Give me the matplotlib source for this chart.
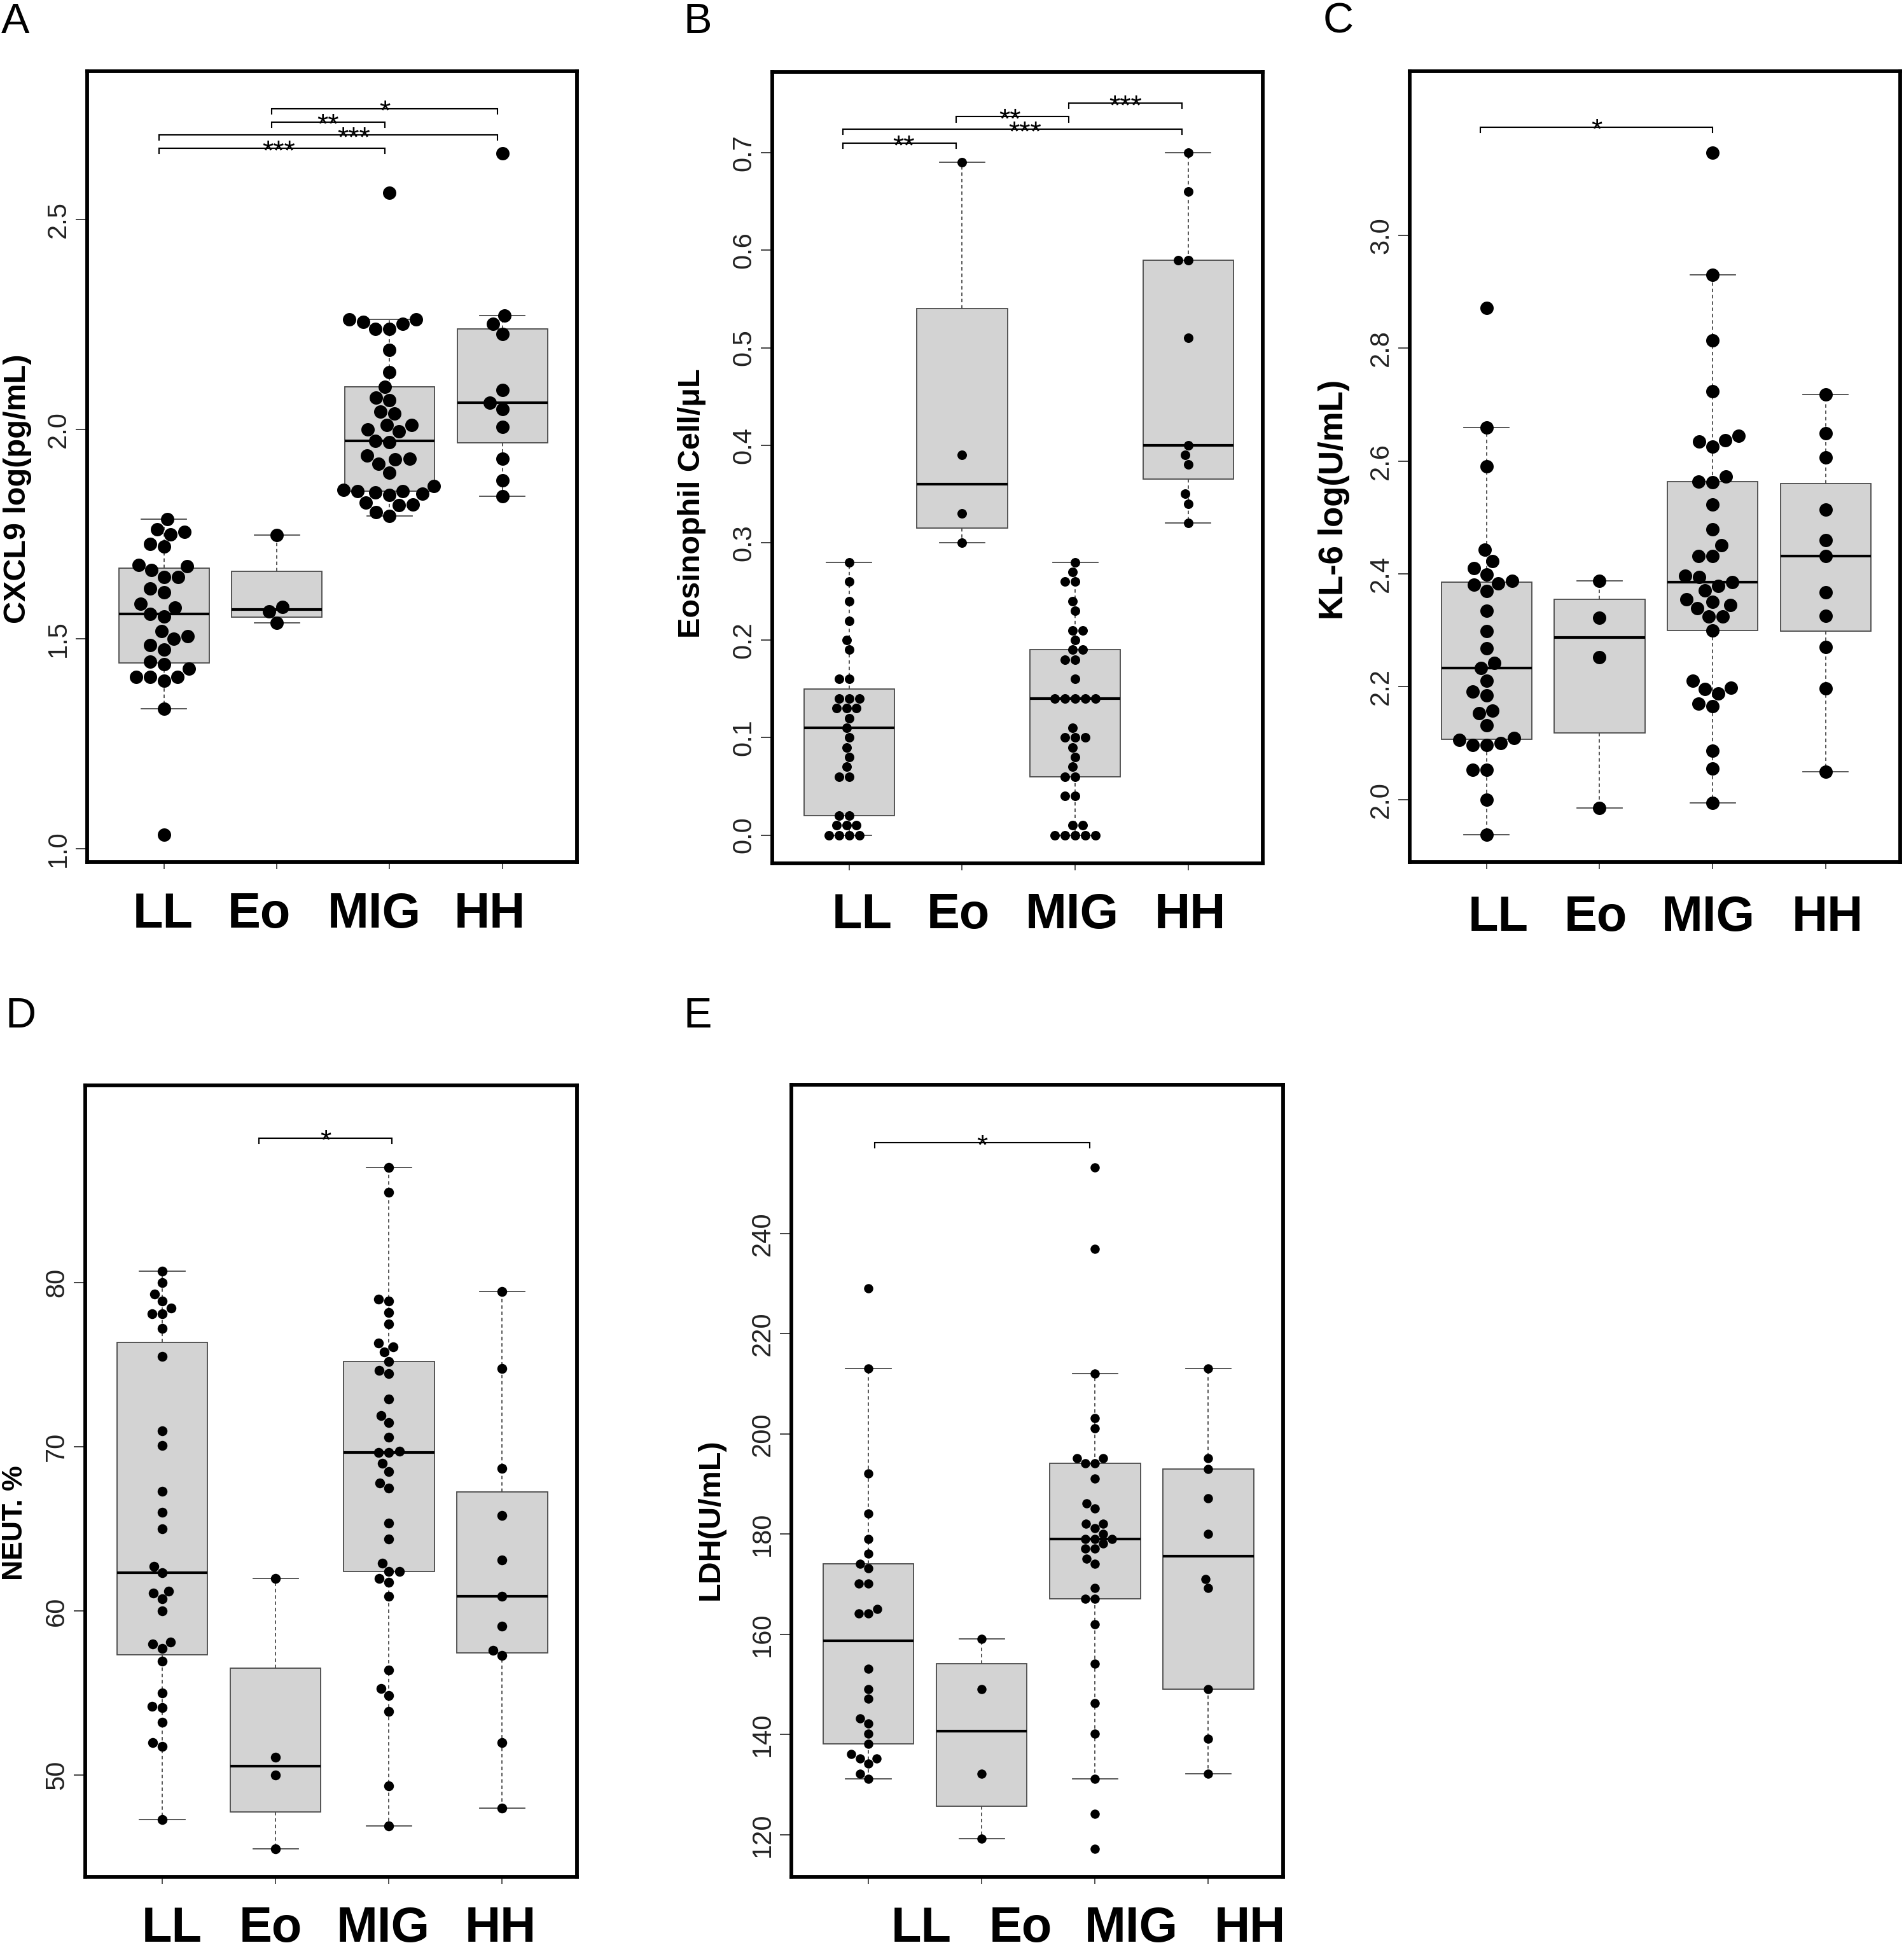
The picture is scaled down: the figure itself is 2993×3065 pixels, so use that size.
import numpy as np
import matplotlib
matplotlib.use("Agg")
import matplotlib.pyplot as plt

plt.rcParams['font.family'] = ['Liberation Sans', 'DejaVu Sans']

# ---------------- data ----------------
groups = ['LL', 'Eo', 'MIG', 'HH']

cxcl9_LL = [1.034, 1.333, 1.41, 1.41, 1.40, 1.41, 1.446, 1.43, 1.44, 1.475, 1.50, 1.485, 1.506,
            1.519, 1.553, 1.559, 1.575, 1.584, 1.612, 1.620, 1.647, 1.647, 1.664, 1.673, 1.676,
            1.727, 1.72, 1.756, 1.75, 1.762, 1.786]
cxcl9_Eo = [1.748, 1.576, 1.566, 1.538]
cxcl9_MIG = [2.564, 2.262, 2.252, 2.239, 2.239, 2.256, 2.262, 2.189, 2.136, 2.102, 2.07, 2.076,
             2.038, 2.042, 2.01, 2.01, 2.0, 1.995, 1.97, 1.972, 1.93, 1.928, 1.938, 1.918, 1.897,
             1.856, 1.853, 1.85, 1.844, 1.846, 1.853, 1.865, 1.821, 1.819, 1.802, 1.825, 1.793]
cxcl9_HH = [2.659, 2.272, 2.252, 2.227, 2.094, 2.064, 2.048, 2.006, 1.93, 1.878, 1.84]
cxcl9_ticks = [1.0, 1.5, 2.0, 2.5]
cxcl9_brackets = [(2, 4, 2.765, '*'), (2, 3, 2.733, '**'), (1, 4, 2.702, '***'), (1, 3, 2.670, '***')]

eos_LL = [0.28, 0.26, 0.24, 0.22, 0.20, 0.19, 0.16, 0.16, 0.14, 0.14, 0.14, 0.13, 0.13, 0.13,
          0.12, 0.11, 0.10, 0.09, 0.08, 0.07, 0.06, 0.06, 0.02, 0.02, 0.01, 0.01, 0.01,
          0.0, 0.0, 0.0, 0.0]
eos_Eo = [0.69, 0.39, 0.33, 0.30]
eos_MIG = [0.28, 0.27, 0.26, 0.26, 0.24, 0.23, 0.21, 0.21, 0.20, 0.19, 0.19, 0.18, 0.18, 0.16,
           0.14, 0.14, 0.14, 0.14, 0.14, 0.11, 0.10, 0.10, 0.10, 0.09, 0.08, 0.07, 0.06, 0.06,
           0.04, 0.04, 0.01, 0.01, 0.0, 0.0, 0.0, 0.0, 0.0]
eos_HH = [0.70, 0.66, 0.59, 0.59, 0.51, 0.40, 0.39, 0.38, 0.35, 0.34, 0.32]
eos_ticks = [0.0, 0.1, 0.2, 0.3, 0.4, 0.5, 0.6, 0.7]
eos_brackets = [(1, 2, 0.710, '**'), (1, 4, 0.724, '***'), (2, 3, 0.737, '**'), (3, 4, 0.751, '***')]

kl6_LL = [2.871, 2.659, 2.590, 2.443, 2.422, 2.399, 2.41, 2.383, 2.369, 2.381, 2.387, 2.334,
          2.298, 2.268, 2.242, 2.233, 2.21, 2.184, 2.191, 2.158, 2.153, 2.132, 2.109, 2.1,
          2.096, 2.096, 2.105, 2.052, 2.052, 1.999, 1.937]
kl6_Eo = [2.387, 2.322, 2.252, 1.985]
kl6_MIG = [3.147, 2.930, 2.814, 2.724, 2.645, 2.637, 2.626, 2.635, 2.572, 2.562, 2.564, 2.523,
           2.479, 2.451, 2.431, 2.431, 2.397, 2.394, 2.385, 2.378, 2.371, 2.35, 2.345, 2.355,
           2.339, 2.324, 2.324, 2.3, 2.198, 2.188, 2.196, 2.21, 2.165, 2.17, 2.086, 2.055, 1.994]
kl6_HH = [2.7175, 2.649, 2.606, 2.514, 2.46, 2.431, 2.367, 2.326, 2.27, 2.197, 2.049]
kl6_ticks = [2.0, 2.2, 2.4, 2.6, 2.8, 3.0]
kl6_brackets = [(1, 3, 3.192, '*')]

neut_LL = [80.73, 80.0, 79.33, 78.89, 78.45, 78.1, 78.1, 77.22, 75.5, 70.98, 70.1, 67.31, 66.01,
           65.0, 62.72, 62.34, 61.23, 61.08, 60.73, 60.0, 58.1, 57.72, 58.0, 56.96, 55.0, 54.11,
           54.21, 53.23, 51.77, 51.99, 47.31]
neut_Eo = [61.99, 51.08, 50.0, 45.51]
neut_MIG = [87.03, 85.51, 78.89, 79.02, 78.2, 77.5, 76.11, 75.79, 76.33, 75.22, 74.49, 74.68,
            72.91, 71.9, 71.49, 70.6, 69.75, 69.68, 69.68, 68.99, 68.51, 67.82, 67.5, 65.38,
            64.4, 62.91, 62.41, 62.41, 61.99, 61.77, 60.89, 56.39, 55.28, 54.87, 53.89, 49.37, 46.9]
neut_HH = [79.49, 74.78, 68.70, 65.82, 63.10, 60.89, 59.08, 57.59, 57.28, 51.99, 48.0]
neut_ticks = [50, 60, 70, 80]
neut_brackets = [(2, 3, 88.83, '*')]

ldh_LL = [229.1, 213.06, 192.1, 184.1, 179.07, 176.17, 173.16, 174.09, 170.16, 170.16, 165.08,
          164.15, 164.15, 153.16, 149.12, 147.15, 142.18, 143.21, 140.2, 138.13, 135.23, 134.2,
          135.23, 136.06, 132.23, 131.19]
ldh_Eo = [159.07, 149.12, 132.23, 119.17]
ldh_MIG = [253.16, 236.99, 212.02, 203.11, 201.14, 195.13, 194.1, 194.1, 195.13, 191.09, 185.08,
           186.11, 182.07, 182.07, 181.14, 180.1, 179.07, 179.07, 179.07, 178.13, 177.1, 177.1,
           175.13, 174.09, 169.22, 167.15, 167.15, 162.07, 154.09, 146.22, 140.2, 131.19,
           124.15, 117.2]
ldh_HH = [213.06, 195.13, 193.06, 187.15, 180.1, 171.09, 169.22, 149.12, 139.17, 132.23]
ldh_ticks = [120, 140, 160, 180, 200, 220, 240]
ldh_brackets = [(1, 3, 258.1, '*')]

# ---------------- layout (pixels of the 2993x3065 canvas) ----------------
W, H = 2993, 3065
panels = [
    dict(letter='A', data=[cxcl9_LL, cxcl9_Eo, cxcl9_MIG, cxcl9_HH], ticks=cxcl9_ticks, fmt='{:.1f}',
         brackets=cxcl9_brackets, boff=(-0.045, -0.045), star_dx=[0.0, 0.0, 0.23, 0.06],
         ylabel='CXCL9 log(pg/mL)', ylab_fs=35,
         rect=(137, 112, 907, 1355), ylim=(0.968, 2.854), ylab_xy=(28, 768), diam=21,
         letter_xy=(2, 52), xlab_px=[256, 407, 588, 770], xlab_base=1458),
    dict(letter='B', data=[eos_LL, eos_Eo, eos_MIG, eos_HH], ticks=eos_ticks, fmt='{:.1f}',
         brackets=eos_brackets, boff=(-0.055, -0.055), star_dx=[0.04, 0.11, -0.02, 0.0],
         ylabel='Eosinophil Cell/μL', ylab_fs=35,
         rect=(1214, 113, 1985, 1357), ylim=(-0.029, 0.783), ylab_xy=(1088, 791), diam=15,
         letter_xy=(1074, 52), xlab_px=[1355, 1506, 1685, 1871], xlab_base=1459),
    dict(letter='C', data=[kl6_LL, kl6_Eo, kl6_MIG, kl6_HH], ticks=kl6_ticks, fmt='{:.1f}',
         brackets=kl6_brackets, boff=(-0.056, 0.0), star_dx=[0.0],
         ylabel='KL-6 log(U/mL)', ylab_fs=38,
         rect=(2216, 112, 2987, 1355), ylim=(1.889, 3.291), ylab_xy=(2097, 785), diam=21,
         letter_xy=(2080, 52), xlab_px=[2355, 2508, 2685, 2873], xlab_base=1463),
    dict(letter='D', data=[neut_LL, neut_Eo, neut_MIG, neut_HH], ticks=neut_ticks, fmt='{:.0f}',
         brackets=neut_brackets, boff=(-0.146, 0.025), star_dx=[0.0],
         ylabel='NEUT. %', ylab_fs=32,
         rect=(134, 1706, 907, 2950), ylim=(43.81, 92.03), ylab_xy=(24, 2394), diam=15.5,
         letter_xy=(8, 1615), xlab_px=[270, 425, 602, 787], xlab_base=3052),
    dict(letter='E', data=[ldh_LL, ldh_Eo, ldh_MIG, ldh_HH], ticks=ldh_ticks, fmt='{:.0f}',
         brackets=ldh_brackets, boff=(0.054, -0.047), star_dx=[0.0],
         ylabel='LDH(U/mL)', ylab_fs=35,
         rect=(1244, 1705, 2017, 2950), ylim=(111.6, 269.7), ylab_xy=(1117, 2388), diam=14.5,
         letter_xy=(1075, 1615), xlab_px=[1448, 1604, 1778, 1965], xlab_base=3052),
]

DPI = 100
fig = plt.figure(figsize=(W / DPI, H / DPI), dpi=DPI)
fig.patch.set_facecolor('white')


def fivenum(v):
    x = np.sort(np.asarray(v, float))
    n = len(x)
    n4 = np.floor((n + 3) / 2) / 2
    d = np.array([1, n4, (n + 1) / 2, n + 1 - n4, n]) - 1
    return 0.5 * (x[np.floor(d).astype(int)] + x[np.ceil(d).astype(int)])


def rstats(v):
    x = np.asarray(v, float)
    mn, q1, med, q3, mx = fivenum(x)
    iqr = q3 - q1
    lo, hi = q1 - 1.5 * iqr, q3 + 1.5 * iqr
    return dict(med=med, q1=q1, q3=q3, whislo=x[x >= lo].min(), whishi=x[x <= hi].max(), fliers=[])


def swarm_offsets(ypx, spacing):
    order = np.argsort(ypx, kind='stable')
    placed = []
    offs = np.zeros(len(ypx))
    for i in order:
        y = ypx[i]
        cands = [0.0]
        intervals = []
        for xo, yo in placed:
            dy = y - yo
            if abs(dy) < spacing:
                dx = np.sqrt(spacing ** 2 - dy ** 2)
                intervals.append((xo - dx, xo + dx))
                cands += [xo - dx, xo + dx]
        valid = [c for c in cands if all(not (a + 1e-6 < c < b - 1e-6) for a, b in intervals)]
        best = min(valid, key=lambda c: (round(abs(c), 6), c))
        offs[i] = best
        placed.append((best, y))
    return offs


for p in panels:
    l, t, r, b = p['rect']
    ax = fig.add_axes([l / W, 1 - b / H, (r - l) / W, (b - t) / H])
    ax.set_xlim(0.32, 4.66)
    ax.set_ylim(*p['ylim'])
    pos = np.arange(1, len(groups) + 1)

    stats = [rstats(v) for v in p['data']]
    ax.bxp(stats, positions=pos, widths=0.8, capwidths=0.4, patch_artist=True, showfliers=False,
           boxprops=dict(facecolor='#d3d3d3', edgecolor='#4a4a4a', linewidth=1.3),
           medianprops=dict(color='black', linewidth=3.0),
           whiskerprops=dict(color='#4a4a4a', linewidth=1.3, linestyle=(0, (3, 2.5))),
           capprops=dict(color='#4a4a4a', linewidth=1.3), manage_ticks=False, zorder=2)

    # beeswarm points
    diam = p['diam']
    x0px = ax.transData.transform((0, 0))[0]
    x1px = ax.transData.transform((1, 0))[0]
    ppu = x1px - x0px
    for g, vals in zip(pos, p['data']):
        vals = np.asarray(vals, float)
        ypx = ax.transData.transform(np.column_stack([np.full(len(vals), g), vals]))[:, 1]
        offs = swarm_offsets(ypx, diam * 1.06)
        ax.scatter(g + offs / ppu, vals, s=(diam * 72 / DPI) ** 2, color='black',
                   linewidths=0, zorder=3, clip_on=False)

    # brackets
    yr = p['ylim'][1] - p['ylim'][0]
    tk = 0.0065 * yr
    for (i, j, y, txt), sdx in zip(p['brackets'], p['star_dx']):
        xa, xb = i + p['boff'][0], j + p['boff'][1]
        ax.plot([xa, xa, xb, xb], [y - tk, y, y, y - tk], color='black', lw=1.5,
                solid_joinstyle='miter', zorder=4)
        ax.annotate(txt, xy=((xa + xb) / 2 + sdx, y), xytext=(0, -13), textcoords='offset points',
                    ha='center', va='baseline', fontsize=32, zorder=5)

    # axes styling
    for s in ax.spines.values():
        s.set_linewidth(4.2)
        s.set_color('black')
    ax.set_yticks(p['ticks'])
    ax.set_yticklabels([p['fmt'].format(v) for v in p['ticks']])
    ax.tick_params(axis='y', direction='out', length=13, width=1.3, color='#333333',
                   labelsize=30, labelcolor='#222222', pad=5)
    for lab in ax.get_yticklabels():
        lab.set_rotation(90)
        lab.set_va('center')
    ax.set_xticks(pos)
    ax.set_xticklabels([])
    ax.tick_params(axis='x', direction='out', length=8, width=1.3, color='#444444')

    # y label
    fig.text(p['ylab_xy'][0] / W, 1 - p['ylab_xy'][1] / H, p['ylabel'], rotation=90,
             ha='center', va='center', fontsize=p['ylab_fs'], fontweight='bold')
    # panel letter
    fig.text(p['letter_xy'][0] / W, 1 - p['letter_xy'][1] / H, p['letter'], ha='left',
             va='baseline', fontsize=48)
    # group labels
    for name, cx in zip(groups, p['xlab_px']):
        fig.text(cx / W, 1 - p['xlab_base'] / H, name, ha='center', va='baseline',
                 fontsize=56, fontweight='bold')

fig.savefig('out.png', dpi=DPI, facecolor='white')
